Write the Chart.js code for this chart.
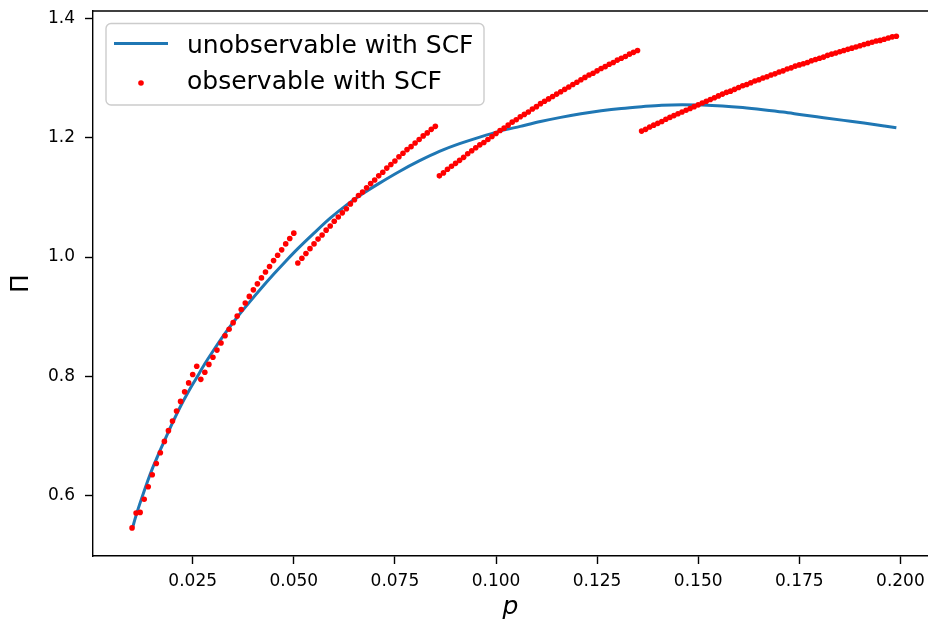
<!DOCTYPE html>
<html>
<head>
<meta charset="utf-8">
<title>Π vs p</title>
<script src="https://cdn.jsdelivr.net/npm/chart.js@4.4.1/dist/chart.umd.min.js"></script>
<style>
  html, body { margin: 0; padding: 0; background: #fff; overflow: hidden; }
  canvas { display: block; }
</style>
</head>
<body>
<canvas id="piChart" width="928" height="623"></canvas>
<script>
const seriesLabels = ["unobservable with SCF", "observable with SCF"];

// smooth curve, unobservable case
const curveP = [0.010, 0.011, 0.012, 0.013, 0.014, 0.015, 0.016, 0.017, 0.018, 0.019,
  0.020, 0.022, 0.024, 0.026, 0.028, 0.030, 0.033, 0.036, 0.039, 0.042,
  0.045, 0.048, 0.051, 0.055, 0.059, 0.063, 0.067, 0.071, 0.076, 0.081,
  0.086, 0.091, 0.096, 0.101, 0.106, 0.111, 0.116, 0.121, 0.126, 0.131,
  0.136, 0.141, 0.146, 0.151, 0.156, 0.161, 0.166, 0.171, 0.176, 0.181,
  0.186, 0.191, 0.196, 0.199];
const curvePi = [0.543, 0.567, 0.588, 0.608, 0.627, 0.645, 0.661, 0.677, 0.692, 0.707,
  0.722, 0.750, 0.775, 0.798, 0.821, 0.842, 0.872, 0.899, 0.924, 0.948,
  0.971, 0.993, 1.014, 1.040, 1.065, 1.087, 1.106, 1.123, 1.143, 1.161,
  1.177, 1.190, 1.201, 1.211, 1.219, 1.227, 1.234, 1.240, 1.245, 1.249,
  1.252, 1.2545, 1.2552, 1.2548, 1.2532, 1.2505, 1.247, 1.243, 1.238, 1.2335,
  1.229, 1.2245, 1.2195, 1.2165];

// observable case, one array pair per branch
const dotsP1 = [0.010, 0.011, 0.012, 0.013, 0.014, 0.015, 0.016, 0.017, 0.018, 0.019,
  0.020, 0.021, 0.022, 0.023, 0.024, 0.025, 0.026];
const dotsPi1 = [0.546, 0.571, 0.572, 0.594, 0.615, 0.635, 0.654, 0.672, 0.691, 0.709,
  0.725, 0.742, 0.758, 0.774, 0.789, 0.803, 0.817];

const dotsP2 = [0.027, 0.028, 0.029, 0.030, 0.031, 0.032, 0.033, 0.034, 0.035, 0.036,
  0.037, 0.038, 0.039, 0.040, 0.041, 0.042, 0.043, 0.044, 0.045, 0.046,
  0.047, 0.048, 0.049, 0.050];
const dotsPi2 = [0.795, 0.807, 0.820, 0.832, 0.844, 0.856, 0.868, 0.879, 0.890, 0.901,
  0.912, 0.923, 0.934, 0.945, 0.955, 0.965, 0.975, 0.984, 0.994, 1.003,
  1.012, 1.022, 1.031, 1.040];

const dotsP3 = [0.051, 0.052, 0.053, 0.054, 0.055, 0.056, 0.057, 0.058, 0.059, 0.060,
  0.061, 0.062, 0.063, 0.064, 0.065, 0.066, 0.067, 0.068, 0.069, 0.070,
  0.071, 0.072, 0.073, 0.074, 0.075, 0.076, 0.077, 0.078, 0.079, 0.080,
  0.081, 0.082, 0.083, 0.084, 0.085];
const dotsPi3 = [0.990, 0.998, 1.006, 1.014, 1.022, 1.030, 1.037, 1.045, 1.052, 1.060,
  1.067, 1.074, 1.081, 1.089, 1.096, 1.103, 1.109, 1.116, 1.123, 1.129,
  1.136, 1.142, 1.149, 1.155, 1.161, 1.168, 1.174, 1.180, 1.185, 1.191,
  1.197, 1.203, 1.208, 1.214, 1.219];

const dotsP4 = [0.086, 0.087, 0.088, 0.089, 0.090, 0.091, 0.092, 0.093, 0.094, 0.095,
  0.096, 0.097, 0.098, 0.099, 0.100, 0.101, 0.102, 0.103, 0.104, 0.105,
  0.106, 0.107, 0.108, 0.109, 0.110, 0.111, 0.112, 0.113, 0.114, 0.115,
  0.116, 0.117, 0.118, 0.119, 0.120, 0.121, 0.122, 0.123, 0.124, 0.125,
  0.126, 0.127, 0.128, 0.129, 0.130, 0.131, 0.132, 0.133, 0.134, 0.135];
const dotsPi4 = [1.136, 1.141, 1.147, 1.152, 1.157, 1.162, 1.167, 1.173, 1.178, 1.183,
  1.188, 1.192, 1.197, 1.202, 1.207, 1.212, 1.216, 1.221, 1.226, 1.230,
  1.235, 1.239, 1.243, 1.248, 1.252, 1.257, 1.261, 1.265, 1.269, 1.273,
  1.277, 1.281, 1.285, 1.289, 1.293, 1.297, 1.301, 1.305, 1.308, 1.312,
  1.316, 1.319, 1.323, 1.326, 1.330, 1.333, 1.336, 1.340, 1.343, 1.346];

const dotsP5 = [0.136, 0.137, 0.138, 0.139, 0.140, 0.141, 0.142, 0.143, 0.144, 0.145,
  0.146, 0.147, 0.148, 0.149, 0.150, 0.151, 0.152, 0.153, 0.154, 0.155,
  0.156, 0.157, 0.158, 0.159, 0.160, 0.161, 0.162, 0.163, 0.164, 0.165,
  0.166, 0.167, 0.168, 0.169, 0.170, 0.171, 0.172, 0.173, 0.174, 0.175,
  0.176, 0.177, 0.178, 0.179, 0.180, 0.181, 0.182, 0.183, 0.184, 0.185,
  0.186, 0.187, 0.188, 0.189, 0.190, 0.191, 0.192, 0.193, 0.194, 0.195,
  0.196, 0.197, 0.198, 0.199];
const dotsPi5 = [1.211, 1.214, 1.218, 1.221, 1.224, 1.227, 1.231, 1.234, 1.237, 1.240,
  1.243, 1.246, 1.249, 1.252, 1.255, 1.258, 1.261, 1.264, 1.267, 1.270,
  1.273, 1.276, 1.278, 1.281, 1.284, 1.287, 1.289, 1.292, 1.295, 1.297,
  1.300, 1.302, 1.305, 1.307, 1.310, 1.312, 1.315, 1.317, 1.320, 1.322,
  1.324, 1.326, 1.329, 1.331, 1.333, 1.335, 1.338, 1.340, 1.342, 1.344,
  1.346, 1.348, 1.350, 1.352, 1.354, 1.356, 1.358, 1.360, 1.362, 1.363,
  1.365, 1.367, 1.369, 1.370];

const xTickValues = [0.025, 0.050, 0.075, 0.100, 0.125, 0.150, 0.175, 0.200];
const yTickValues = [0.6, 0.8, 1.0, 1.2, 1.4];

const palette = {
  curve: "#1f77b4",
  dots: "#ff0000",
  axis: "#000000",
  legendEdge: "#cccccc",
};
const fontFamily = "'DejaVu Sans', sans-serif";

function toPoints(xs, ys) {
  return xs.map((x, i) => ({ x: x, y: ys[i] }));
}

const dotPoints = [
  ...toPoints(dotsP1, dotsPi1),
  ...toPoints(dotsP2, dotsPi2),
  ...toPoints(dotsP3, dotsPi3),
  ...toPoints(dotsP4, dotsPi4),
  ...toPoints(dotsP5, dotsPi5),
];

// keep the plot box fixed: no extra room reserved for edge tick labels
function fixScale(scale, size) {
  if (scale.isHorizontal()) {
    scale.height = size;
  } else {
    scale.width = size;
  }
  scale.paddingTop = 0;
  scale.paddingBottom = 0;
  scale.paddingLeft = 0;
  scale.paddingRight = 0;
}

// top spine (right one falls outside the canvas)
const frameTop = {
  id: "frameTop",
  afterDraw(chart) {
    const { ctx, chartArea } = chart;
    ctx.save();
    ctx.strokeStyle = palette.axis;
    ctx.lineWidth = 1.4;
    ctx.beginPath();
    ctx.moveTo(chartArea.left - 0.7, chartArea.top);
    ctx.lineTo(chartArea.right, chartArea.top);
    ctx.stroke();
    ctx.restore();
  },
};

function roundedBox(ctx, x, y, w, h, r) {
  ctx.beginPath();
  ctx.moveTo(x + r, y);
  ctx.arcTo(x + w, y, x + w, y + h, r);
  ctx.arcTo(x + w, y + h, x, y + h, r);
  ctx.arcTo(x, y + h, x, y, r);
  ctx.arcTo(x, y, x + w, y, r);
  ctx.closePath();
}

// framed legend in the upper left corner
const cornerLegend = {
  id: "cornerLegend",
  afterDraw(chart) {
    const { ctx } = chart;
    ctx.save();
    roundedBox(ctx, 106, 23.5, 378, 81.5, 5);
    ctx.fillStyle = "rgba(255, 255, 255, 0.8)";
    ctx.fill();
    ctx.strokeStyle = palette.legendEdge;
    ctx.lineWidth = 1.4;
    ctx.stroke();

    ctx.strokeStyle = palette.curve;
    ctx.lineWidth = 3;
    ctx.beginPath();
    ctx.moveTo(114, 43.5);
    ctx.lineTo(168, 43.5);
    ctx.stroke();

    ctx.fillStyle = palette.dots;
    ctx.beginPath();
    ctx.arc(141, 83, 2.8, 0, Math.PI * 2);
    ctx.fill();

    ctx.fillStyle = palette.axis;
    ctx.font = `25px ${fontFamily}`;
    ctx.textAlign = "left";
    ctx.textBaseline = "alphabetic";
    ctx.fillText(seriesLabels[0], 187, 53);
    ctx.fillText(seriesLabels[1], 187, 89);
    ctx.restore();
  },
};

const tickFont = { family: fontFamily, size: 17 };

new Chart(document.getElementById("piChart"), {
  type: "scatter",
  data: {
    datasets: [
      {
        label: seriesLabels[0],
        data: toPoints(curveP, curvePi),
        showLine: true,
        borderColor: palette.curve,
        borderWidth: 3,
        pointRadius: 0,
        cubicInterpolationMode: "monotone",
        order: 1,
      },
      {
        label: seriesLabels[1],
        data: dotPoints,
        showLine: false,
        pointRadius: 2.8,
        pointBorderWidth: 0,
        backgroundColor: palette.dots,
        borderColor: palette.dots,
        order: 0,
      },
    ],
  },
  options: {
    responsive: false,
    animation: false,
    layout: { autoPadding: false, padding: { top: 11, left: 0, right: 0, bottom: 0 } },
    plugins: {
      legend: { display: false },
      tooltip: { enabled: false },
    },
    scales: {
      x: {
        type: "linear",
        min: 0.000346,
        max: 0.206825,
        afterFit(scale) { fixScale(scale, 67); },
        afterBuildTicks(scale) { scale.ticks = xTickValues.map((v) => ({ value: v })); },
        ticks: {
          callback: (v) => Number(v).toFixed(3),
          font: tickFont,
          color: palette.axis,
          padding: 7,
          maxRotation: 0,
          autoSkip: false,
        },
        grid: { drawOnChartArea: false, tickLength: 8, tickWidth: 1.4, tickColor: palette.axis },
        border: { color: palette.axis, width: 1.4 },
        title: {
          display: true,
          text: "p",
          color: palette.axis,
          font: { family: fontFamily, size: 25, style: "italic" },
          padding: { top: 0, bottom: 1 },
        },
      },
      y: {
        type: "linear",
        min: 0.49894,
        max: 1.4123,
        afterFit(scale) { fixScale(scale, 93); },
        afterBuildTicks(scale) { scale.ticks = yTickValues.map((v) => ({ value: v })); },
        ticks: {
          callback: (v) => Number(v).toFixed(1),
          font: tickFont,
          color: palette.axis,
          padding: 10,
          autoSkip: false,
        },
        grid: { drawOnChartArea: false, tickLength: 8, tickWidth: 1.4, tickColor: palette.axis },
        border: { color: palette.axis, width: 1.4 },
        title: {
          display: true,
          text: "Π",
          color: palette.axis,
          font: { family: fontFamily, size: 25 },
          padding: { top: 6, bottom: 0 },
        },
      },
    },
  },
  plugins: [frameTop, cornerLegend],
});
</script>
</body>
</html>
